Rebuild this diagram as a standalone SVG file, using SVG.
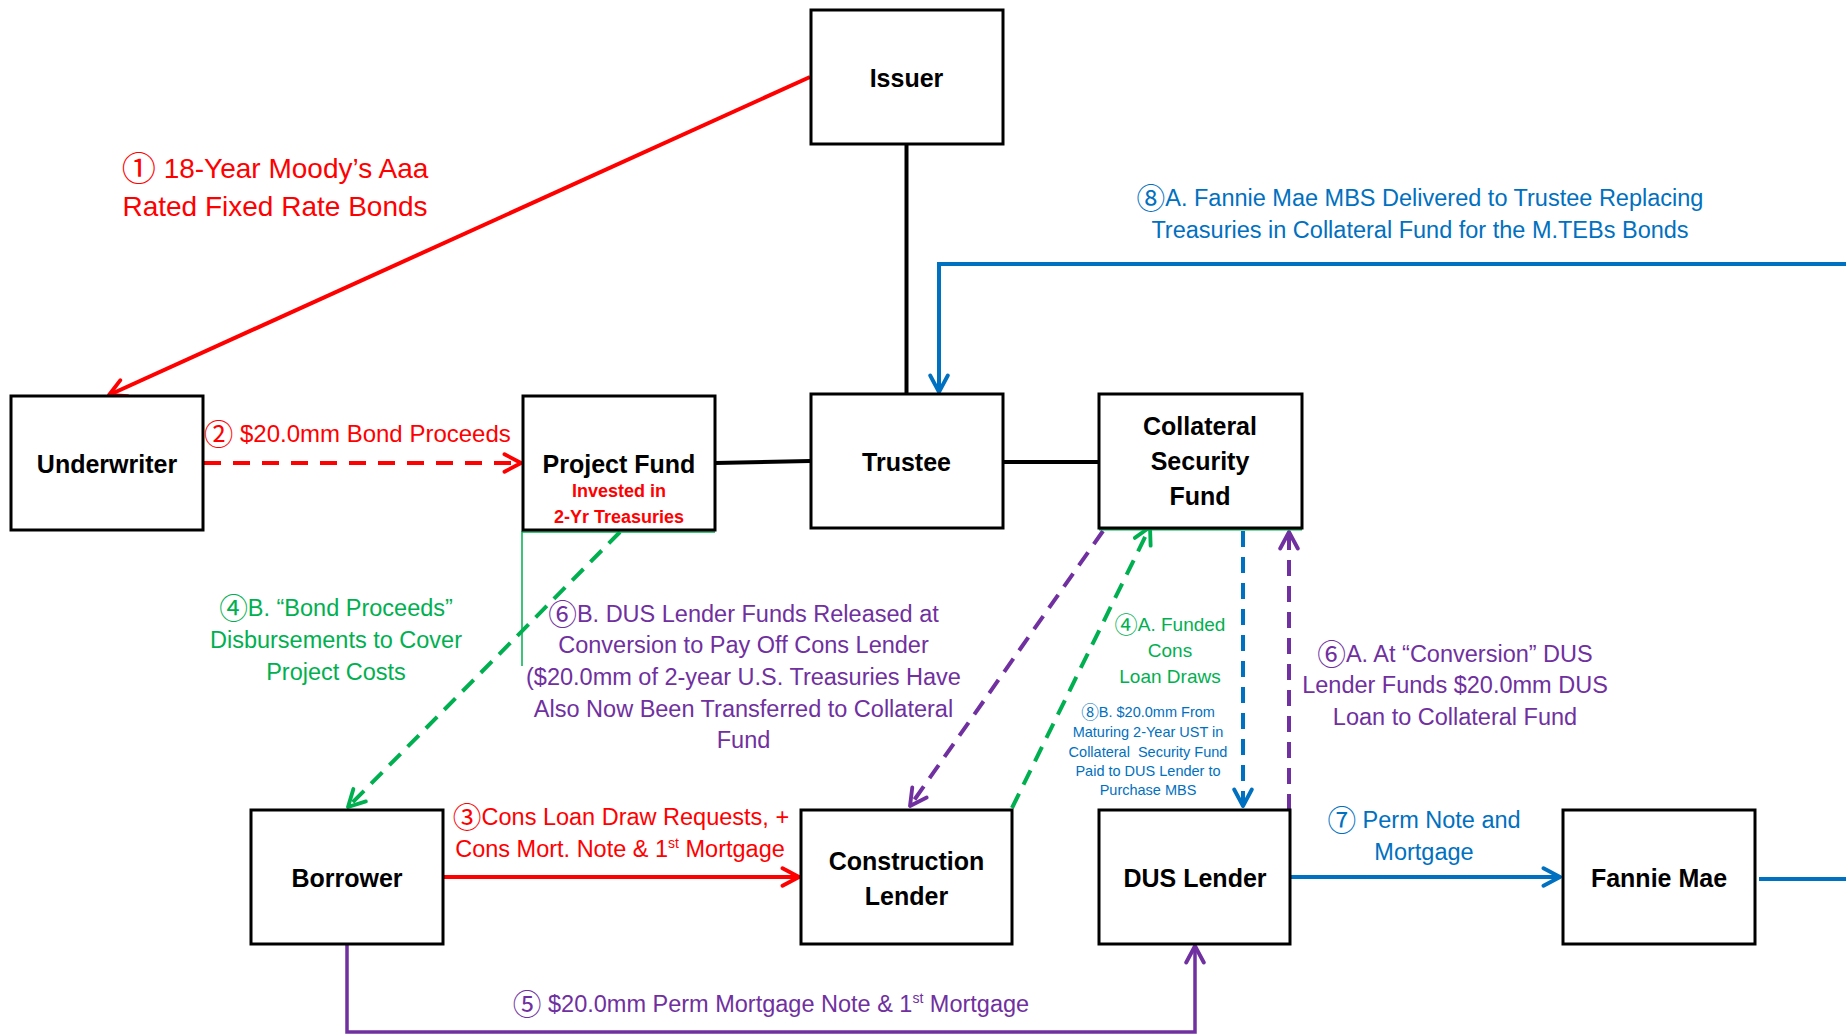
<svg xmlns="http://www.w3.org/2000/svg" width="1846" height="1034" viewBox="0 0 1846 1034">
<defs>
<style>
.box{fill:#fff;stroke:#000;stroke-width:3}
.nt{font-family:"Liberation Sans","DejaVu Sans",sans-serif;font-weight:bold;font-size:25px;fill:#000;text-anchor:middle}
.lb{font-family:"Liberation Sans","DejaVu Sans","Noto Sans CJK JP",sans-serif;font-size:23.5px}
.cn{font-family:"Noto Sans CJK JP","Noto Sans CJK SC","DejaVu Sans",sans-serif;font-size:1.22em;baseline-shift:-0.1em}
.mid{text-anchor:middle}
.red{fill:#FF0000}
.grn{fill:#00B050}
.pur{fill:#7030A0}
.blu{fill:#0070C0}
.c{fill:none;stroke-width:4}
.dash{stroke-dasharray:16 10}
</style>
<marker id="aR" viewBox="0 0 20 20" refX="18" refY="10" markerWidth="22" markerHeight="22" markerUnits="userSpaceOnUse" orient="auto"><path d="M3,2 L18,10 L3,18" fill="none" stroke="#FF0000" stroke-width="3.5" stroke-linecap="round" stroke-linejoin="round"/></marker>
<marker id="aG" viewBox="0 0 20 20" refX="18" refY="10" markerWidth="22" markerHeight="22" markerUnits="userSpaceOnUse" orient="auto"><path d="M3,2 L18,10 L3,18" fill="none" stroke="#00B050" stroke-width="3.5" stroke-linecap="round" stroke-linejoin="round"/></marker>
<marker id="aP" viewBox="0 0 20 20" refX="18" refY="10" markerWidth="22" markerHeight="22" markerUnits="userSpaceOnUse" orient="auto"><path d="M3,2 L18,10 L3,18" fill="none" stroke="#7030A0" stroke-width="3.5" stroke-linecap="round" stroke-linejoin="round"/></marker>
<marker id="aB" viewBox="0 0 20 20" refX="18" refY="10" markerWidth="22" markerHeight="22" markerUnits="userSpaceOnUse" orient="auto"><path d="M3,2 L18,10 L3,18" fill="none" stroke="#0070C0" stroke-width="3.5" stroke-linecap="round" stroke-linejoin="round"/></marker>
</defs>
<rect width="1846" height="1034" fill="#fff"/>

<g id="connectors">
<path d="M906.5,144 V394" class="c" stroke="#000"/>
<path d="M715,463 L810,461" class="c" stroke="#000"/>
<path d="M1003,462 H1099" class="c" stroke="#000"/>
<path d="M810,77 L109,395" class="c" stroke="#FF0000" marker-end="url(#aR)"/>
<path d="M204,463 H521" class="c" stroke="#FF0000" style="stroke-dasharray:17 12" marker-end="url(#aR)"/>
<path d="M443,877 H799" class="c" stroke="#FF0000" marker-end="url(#aR)"/>
<path d="M620,532 L348,807" class="c dash" stroke="#00B050" marker-end="url(#aG)"/>
<path d="M1012,808 L1150,527" class="c dash" stroke="#00B050" marker-end="url(#aG)"/>
<path d="M1103,531 L910,806" class="c dash" stroke="#7030A0" marker-end="url(#aP)"/>
<path d="M1289,810 V532" class="c dash" stroke="#7030A0" marker-end="url(#aP)"/>
<path d="M1243,531 V806" class="c dash" stroke="#0070C0" marker-end="url(#aB)"/>
<path d="M1846,264 H939 V392" class="c" stroke="#0070C0" marker-end="url(#aB)"/>
<path d="M1291,877 H1560" class="c" stroke="#0070C0" marker-end="url(#aB)"/>
<path d="M1759,879 H1846" class="c" stroke="#0070C0"/>
<path d="M347,945 V1032 H1195 V946" fill="none" stroke="#7030A0" stroke-width="3.5" marker-end="url(#aP)"/>
<path d="M522,531 V666 M522,532 H715" fill="none" stroke="#00B050" stroke-width="1.5"/>
<path d="M1099,529.5 H1302" fill="none" stroke="#00B050" stroke-width="2"/>
</g>

<g id="issuer"><rect class="box" x="811" y="10" width="192" height="134"/><text class="nt" x="906.5" y="87">Issuer</text></g>
<g id="underwriter"><rect class="box" x="11" y="396" width="192" height="134"/><text class="nt" x="107" y="473">Underwriter</text></g>
<g id="project-fund"><rect class="box" x="523" y="396" width="192" height="134"/><text class="nt" x="619" y="473">Project Fund</text>
<text class="nt" x="619" y="497" style="font-size:18px;fill:#FF0000">Invested in</text>
<text class="nt" x="619" y="523" style="font-size:18px;fill:#FF0000">2-Yr Treasuries</text></g>
<g id="trustee"><rect class="box" x="811" y="394" width="192" height="134"/><text class="nt" x="906.5" y="471">Trustee</text></g>
<g id="collateral-security-fund"><rect class="box" x="1099" y="394" width="203" height="134"/>
<text class="nt" x="1200" y="435">Collateral</text><text class="nt" x="1200" y="470">Security</text><text class="nt" x="1200" y="505">Fund</text></g>
<g id="borrower"><rect class="box" x="251" y="810" width="192" height="134"/><text class="nt" x="347" y="887">Borrower</text></g>
<g id="construction-lender"><rect class="box" x="801" y="810" width="211" height="134"/>
<text class="nt" x="906.5" y="870">Construction</text><text class="nt" x="906.5" y="905">Lender</text></g>
<g id="dus-lender"><rect class="box" x="1099" y="810" width="191" height="134"/><text class="nt" x="1195" y="887">DUS Lender</text></g>
<g id="fannie-mae"><rect class="box" x="1563" y="810" width="192" height="134"/><text class="nt" x="1659" y="887">Fannie Mae</text></g>

<g id="labels">
<text class="lb red mid" style="font-size:28px"><tspan x="275" y="178"><tspan class="cn">①</tspan> 18-Year Moody’s Aaa</tspan><tspan x="275" y="216">Rated Fixed Rate Bonds</tspan></text>
<text class="lb red" x="204" y="442" style="font-size:24px"><tspan class="cn">②</tspan> $20.0mm Bond Proceeds</text>
<text class="lb blu mid"><tspan x="1420" y="206"><tspan class="cn">⑧</tspan>A. Fannie Mae MBS Delivered to Trustee Replacing</tspan><tspan x="1420" y="238">Treasuries in Collateral Fund for the M.TEBs Bonds</tspan></text>
<text class="lb grn mid"><tspan x="336" y="616"><tspan class="cn">④</tspan>B. “Bond Proceeds”</tspan><tspan x="336" y="648">Disbursements to Cover</tspan><tspan x="336" y="680">Project Costs</tspan></text>
<text class="lb pur mid"><tspan x="743.5" y="622"><tspan class="cn">⑥</tspan>B. DUS Lender Funds Released at</tspan><tspan x="743.5" y="653">Conversion to Pay Off Cons Lender</tspan><tspan x="743.5" y="685">($20.0mm of 2-year U.S. Treasuries Have</tspan><tspan x="743.5" y="717">Also Now Been Transferred to Collateral</tspan><tspan x="743.5" y="748">Fund</tspan></text>
<text class="lb grn mid" style="font-size:19px"><tspan x="1170" y="631"><tspan class="cn">④</tspan>A. Funded</tspan><tspan x="1170" y="657">Cons</tspan><tspan x="1170" y="683">Loan Draws</tspan></text>
<text class="lb blu mid" style="font-size:14.5px" xml:space="preserve"><tspan x="1148" y="717"><tspan class="cn">⑧</tspan>B. $20.0mm From</tspan><tspan x="1148" y="737">Maturing 2-Year UST in</tspan><tspan x="1148" y="757">Collateral  Security Fund</tspan><tspan x="1148" y="776">Paid to DUS Lender to</tspan><tspan x="1148" y="795">Purchase MBS</tspan></text>
<text class="lb pur mid"><tspan x="1455" y="662"><tspan class="cn">⑥</tspan>A. At “Conversion” DUS</tspan><tspan x="1455" y="693">Lender Funds $20.0mm DUS</tspan><tspan x="1455" y="725">Loan to Collateral Fund</tspan></text>
<text class="lb red mid"><tspan x="621" y="825"><tspan class="cn">③</tspan>Cons Loan Draw Requests, +</tspan><tspan x="620" y="857">Cons Mort. Note &amp; 1<tspan style="font-size:14px" dy="-9">st</tspan><tspan dy="9"> Mortgage</tspan></tspan></text>
<text class="lb blu mid"><tspan x="1424" y="828"><tspan class="cn">⑦</tspan> Perm Note and</tspan><tspan x="1424" y="860">Mortgage</tspan></text>
<text class="lb pur mid" x="771" y="1012"><tspan class="cn">⑤</tspan> $20.0mm Perm Mortgage Note &amp; 1<tspan style="font-size:14px" dy="-9">st</tspan><tspan dy="9"> Mortgage</tspan></text>
</g>
</svg>
